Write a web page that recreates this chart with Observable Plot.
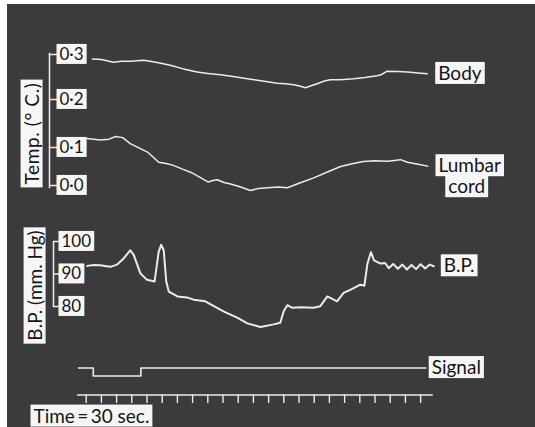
<!DOCTYPE html>
<html><head><meta charset="utf-8">
<script src="https://cdn.jsdelivr.net/npm/d3@7"></script>
<script src="https://cdn.jsdelivr.net/npm/@observablehq/plot@0.6"></script>
<style>
html,body{margin:0;padding:0;background:#fff;}
#wrap{position:relative;width:535px;height:427px;background:#fff;overflow:hidden;}
#photo{position:absolute;left:7px;top:4px;right:0;bottom:0;background:#3b3b3b;}
#wrap svg{position:absolute;left:0;top:0;}
#wrap g[aria-label="y-axis tick label"]{fill:#151515;}
</style></head><body><div id="wrap"><div id="photo"></div></div>
<script>
// ---- data (time in seconds from first time mark) ----
const bodyTime = [12,30,54,70,87,100,114,140,166,192,219,240,265,290,318,348,377,393,410,421,433,445,456,470,482,500,515,528,550,574,582,594,615,634,655,673];
const bodyTemp = [0.290,0.289,0.283,0.285,0.285,0.286,0.287,0.282,0.276,0.268,0.261,0.258,0.255,0.251,0.246,0.241,0.236,0.235,0.233,0.230,0.226,0.231,0.235,0.241,0.244,0.244,0.245,0.246,0.249,0.253,0.255,0.263,0.262,0.261,0.259,0.257];

const lumbarTime = [1,28,45,58,72,87,104,121,132,143,158,172,190,206,224,241,250,259,272,285,305,324,340,358,378,397,420,449,475,502,525,547,570,595,608,620,634,655,674];
const lumbarTemp = [0.124,0.120,0.122,0.129,0.126,0.110,0.099,0.088,0.075,0.061,0.058,0.053,0.043,0.035,0.022,0.009,0.013,0.015,0.008,0.004,-0.004,-0.013,-0.008,-0.006,-0.004,-0.006,0.006,0.020,0.035,0.050,0.057,0.063,0.065,0.064,0.066,0.068,0.061,0.056,0.051];

const bpTime = [2,15,28,40,48,61,74,87,94,107,120,135,143,148,153,158,163,180,199,212,235,252,272,298,318,344,370,383,390,397,407,423,449,462,476,495,508,522,541,549,555,562,568,581,590,597,606,615,624,633,642,651,660,669,678,686];
const bpValue = [92.5,92.8,92.7,92.4,92.2,92.9,94.8,97.3,95.8,90.2,88.2,87.7,96.8,99.0,97.3,87.7,84.6,83.1,82.8,82.1,81.6,80.1,78.4,76.6,74.8,73.7,74.5,75.0,78.6,80.4,79.6,79.8,79.6,80.1,83.1,81.6,84.2,85.2,86.7,86.4,93.2,96.7,94.2,93.2,93.4,91.8,93.1,91.6,92.9,91.4,92.8,91.5,93.0,91.7,92.9,92.4];

const signalTime = [-15,14,108,670];
const signalLevel = [1,0,1,1];

const timeTicks = [0,30,60,90,120,150,180,210,240,270,300,330,360,390,420,450,480,510,540,570,600,630,660];
const timeSpan = [-17,685];

const bodyTicks = [0.2,0.3];
const lumbarTicks = [0.0,0.1];
const bpTicks = [80,90,100];

// ---- layout ----
const W = 535, H = 427;
const X_DOMAIN = [-169.1, 886.7];
const TRACE = "#ececec", TEXT = "#151515", BOX = "#f6f6f6";
const FONT = "Lato, 'Open Sans', sans-serif";

const zip = (a, b, k1, k2) => a.map((v, i) => ({[k1]: v, [k2]: b[i]}));
const body = zip(bodyTime, bodyTemp, "t", "v");
const lumbar = zip(lumbarTime, lumbarTemp, "t", "v");
const bp = zip(bpTime, bpValue, "t", "v");
const signal = zip(signalTime, signalLevel, "t", "v");
const fmtTemp = d => d3.format(".1f")(d).replace(".", "\u00b7");

function panel({top, bottom, left = 0, right = 0, y, marks}) {
  return Plot.plot({
    width: W, height: H,
    marginTop: top, marginBottom: H - bottom, marginLeft: left, marginRight: right,
    x: {domain: X_DOMAIN, range: [0, W], axis: null, label: null},
    y: y ? {...y, axis: null, label: null} : {axis: null, label: null},
    style: {background: "transparent", overflow: "visible", fontFamily: FONT, color: TRACE},
    marks
  });
}

function label(text, {x, y, rotate = 0, anchor = "middle", size = 19, spacing = 0}) {
  return Plot.plot({
    width: W, height: H,
    marginLeft: x, marginTop: y, marginRight: W - x - 1, marginBottom: H - y - 1,
    style: {background: "transparent", overflow: "visible", fontFamily: FONT, letterSpacing: spacing + "px"},
    marks: [Plot.text([text], {frameAnchor: "top-left", lineAnchor: "middle", rotate, textAnchor: anchor, fontSize: size, fill: TEXT})]
  });
}

const lineOpts = (w) => ({x: "t", y: "v", stroke: TRACE, strokeWidth: w, curve: "linear"});
const axisOpts = (ticks, size, fmt) => ({ticks, anchor: "right", tickSize: size, tickPadding: 3, tickFormat: fmt, fontSize: 17, strokeWidth: 1.5, label: null});

const svgs = [
  // Body temperature
  panel({top: 53, bottom: 147, right: W - 49,
    y: {domain: [0.2, 0.3], range: [99, 54]},
    marks: [
      Plot.frame({anchor: "right", stroke: TRACE, strokeWidth: 1.5}),
      Plot.axisY(axisOpts(bodyTicks, 7, fmtTemp)),
      Plot.line(body, lineOpts(1.5)),
      Plot.text(body, Plot.selectLast({x: "t", y: "v", text: () => "Body", dx: 11, textAnchor: "start", fontSize: 19, fill: TEXT}))
    ]}),
  // Lumbar cord temperature
  panel({top: 147, bottom: 187, right: W - 49,
    y: {domain: [0.0, 0.1], range: [185, 147]},
    marks: [
      Plot.frame({anchor: "right", stroke: TRACE, strokeWidth: 1.5}),
      Plot.axisY(axisOpts(lumbarTicks, 7, fmtTemp)),
      Plot.line(lumbar, lineOpts(1.5)),
      Plot.text(lumbar, Plot.selectLast({x: "t", y: "v", text: () => "Lumbar", dx: 42, textAnchor: "middle", fontSize: 19, fill: TEXT})),
      Plot.text(lumbar, Plot.selectLast({x: "t", y: "v", text: () => "cord", dx: 39, dy: 21, textAnchor: "middle", fontSize: 19, fill: TEXT}))
    ]}),
  // Blood pressure
  panel({top: 241, bottom: 306, right: W - 53,
    y: {domain: [80, 100], range: [306, 241]},
    marks: [
      Plot.frame({anchor: "right", stroke: TRACE, strokeWidth: 1.5}),
      Plot.axisY(axisOpts(bpTicks, 5, d => String(d))),
      Plot.line(bp, lineOpts(2)),
      Plot.text(bp, Plot.selectLast({x: "t", y: "v", text: () => "B.P.", dx: 10, textAnchor: "start", fontSize: 19, fill: TEXT}))
    ]}),
  // Signal
  panel({top: 367.5, bottom: 375.5,
    y: {domain: [0, 1], range: [375.5, 367.5]},
    marks: [
      Plot.line(signal, {x: "t", y: "v", stroke: TRACE, strokeWidth: 1.6, curve: "step-after"}),
      Plot.text(signal, Plot.selectLast({x: "t", y: "v", text: () => "Signal", dx: 6, textAnchor: "start", fontSize: 19, fill: TEXT}))
    ]}),
  // Time marks
  panel({top: 394.5, bottom: 403,
    y: {domain: [0, 1], range: [403, 394.5]},
    marks: [
      Plot.ruleY([timeSpan], {y: () => 1, x1: d => d[0], x2: d => d[1], stroke: TRACE, strokeWidth: 1.6}),
      Plot.tickX(timeTicks, {x: d => d, stroke: TRACE, strokeWidth: 1.4})
    ]}),
  label("Temp. (\u00b0 C.)", {x: 32, y: 133, rotate: -90, spacing: 0.6}),
  label("B.P. (mm. Hg)", {x: 35, y: 285, rotate: -90}),
  label("Time\u2009=\u200930 sec.", {x: 33, y: 416, anchor: "start"})
];

const wrap = document.getElementById("wrap");
for (const s of svgs) wrap.appendChild(s);

// white label boxes behind every text
for (const s of svgs) {
  s.querySelectorAll("text").forEach(t => {
    const b = t.getBBox();
    const r = document.createElementNS("http://www.w3.org/2000/svg", "rect");
    r.setAttribute("x", b.x - 3);
    r.setAttribute("y", b.y + 1);
    r.setAttribute("width", b.width + 6);
    r.setAttribute("height", b.height - 1);
    r.setAttribute("fill", BOX);
    r.setAttribute("stroke", "none");
    const tr = t.getAttribute("transform");
    if (tr) r.setAttribute("transform", tr);
    t.parentNode.insertBefore(r, t);
  });
}
</script></body></html>
